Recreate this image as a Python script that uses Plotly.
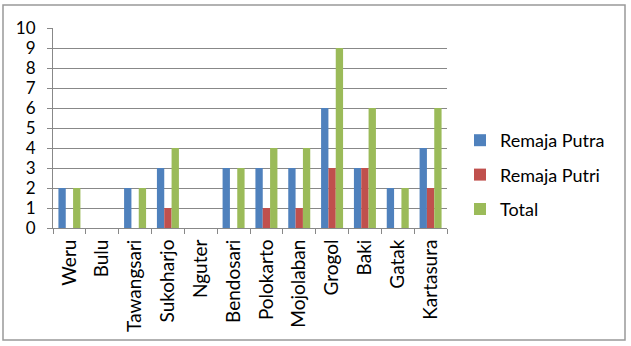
import plotly.graph_objects as go

categories = ["Weru", "Bulu", "Tawangsari", "Sukoharjo", "Nguter", "Bendosari",
              "Polokarto", "Mojolaban", "Grogol", "Baki", "Gatak", "Kartasura"]
remaja_putra = [2, 0, 2, 3, 0, 3, 3, 3, 6, 3, 2, 4]
remaja_putri = [0, 0, 0, 1, 0, 0, 1, 1, 3, 3, 0, 2]
total = [2, 0, 2, 4, 0, 3, 4, 4, 9, 6, 2, 6]
y_ticks = list(range(0, 11))

series = [("Remaja Putra", remaja_putra, "#4F81BD"),
          ("Remaja Putri", remaja_putri, "#C0504D"),
          ("Total", total, "#9BBB59")]

fig = go.Figure()
for i, (name, vals, color) in enumerate(series):
    fig.add_trace(go.Bar(x=categories, y=vals, name=name, marker_color=color,
                         marker_line_width=0, legendgroup=f"g{i}"))

W, H = 631, 346
L, R, T, B = 53, 447, 28, 228
pw, ph = R - L, B - T

font_family = "Lato, Open Sans, sans-serif"
fig.update_layout(
    width=W, height=H,
    margin=dict(l=L, r=W - R, t=T, b=H - B),
    paper_bgcolor="white", plot_bgcolor="white",
    barmode="group", bargap=0.33, bargroupgap=0,
    font=dict(family=font_family, size=16, color="black"),
    showlegend=True,
    legend=dict(x=(460 - L) / pw, y=(B - 122) / ph, xanchor="left", yanchor="top",
                traceorder="grouped", tracegroupgap=8,
                font=dict(size=18), itemwidth=30, bgcolor="rgba(0,0,0,0)"),
    xaxis=dict(tickangle=-90, ticks="outside", tickson="boundaries", ticklen=5,
               tickcolor="#888", showline=True, linecolor="#888", linewidth=1,
               tickfont=dict(size=19), ticklabelstandoff=3),
    yaxis=dict(range=[0, 10], tickvals=y_ticks, ticks="outside", ticklen=5,
               tickcolor="#888", showline=True, linecolor="#888", linewidth=1,
               showgrid=True, gridcolor="#888", gridwidth=1, zeroline=False,
               tickfont=dict(size=17), ticklabelstandoff=8),
    shapes=[dict(type="rect", xref="paper", yref="paper",
                 x0=(3 - L) / pw, x1=(625 - L) / pw,
                 y0=(B - 340) / ph, y1=(B - 5) / ph,
                 line=dict(color="#999", width=1.5), fillcolor="rgba(0,0,0,0)",
                 layer="below")],
)

fig.write_html("out.html")
